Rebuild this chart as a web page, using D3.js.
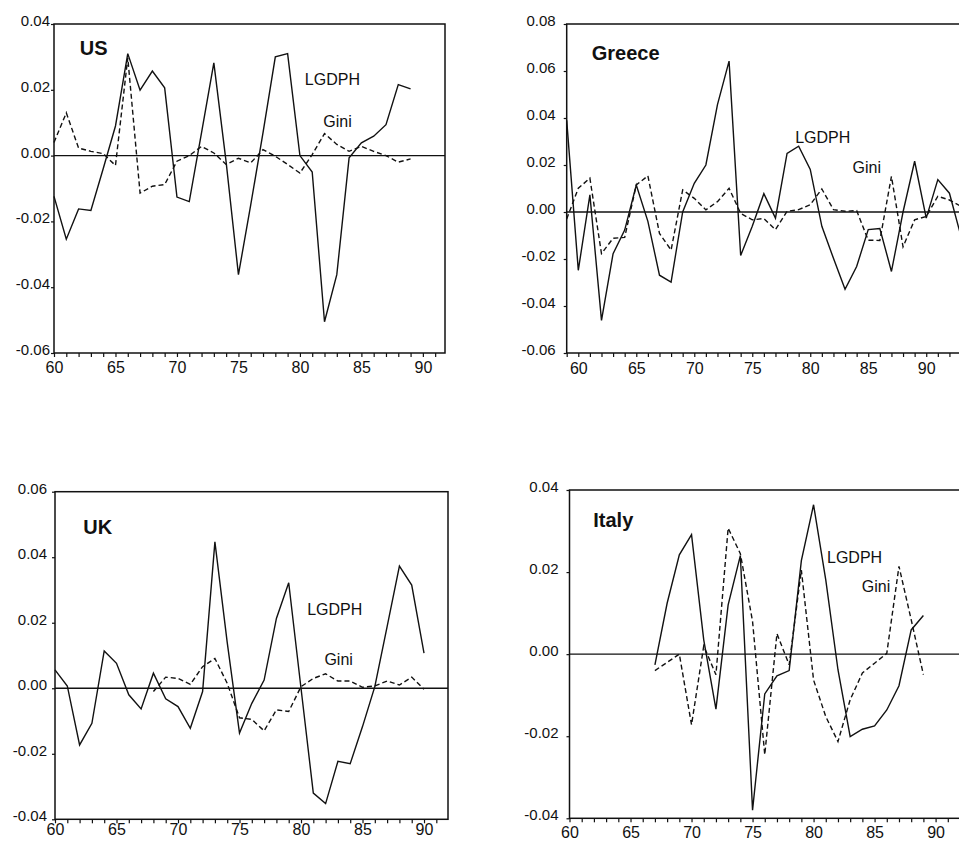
<!DOCTYPE html>
<html>
<head>
<meta charset="utf-8">
<script src="https://cdn.jsdelivr.net/npm/d3@7/dist/d3.min.js"></script>
<style>
  body { margin: 0; background: #fff; }
  svg { display: block; font-family: "Liberation Sans", Arial, sans-serif; }
</style>
</head>
<body>
<div id="chart"></div>
<script>
// --- data ---
const usYears = [60,61,62,63,64,65,66,67,68,69,70,71,72,73,74,75,76,77,78,79,80,81,82,83,84,85,86,87,88,89];
const usLgdph = [-0.0124,-0.0254,-0.0162,-0.0167,-0.004,0.009,0.031,0.0199,0.0257,0.0206,-0.0126,-0.014,0.007,0.0282,-0.002,-0.0362,-0.015,0.007,0.030,0.031,0.000,-0.005,-0.0505,-0.0362,-0.0007,0.0039,0.0059,0.0094,0.0216,0.0203];
const usGini  = [0.004,0.013,0.0023,0.0013,0.0006,-0.003,0.0297,-0.0114,-0.0093,-0.0088,-0.0017,0.0,0.0028,0.0008,-0.0027,-0.0008,-0.0022,0.0018,-0.0002,-0.0027,-0.0053,0.0003,0.0067,0.0034,0.0013,0.0028,0.0013,0.0,-0.002,-0.001];

const grYears = [59,60,61,62,63,64,65,66,67,68,69,70,71,72,73,74,75,76,77,78,79,80,81,82,83,84,85,86,87,88,89,90,91,92,93];
const grLgdph = [0.039,-0.0248,0.0073,-0.0461,-0.0177,-0.0077,0.0115,-0.004,-0.0269,-0.0298,0.0,0.0122,0.02,0.0457,0.0642,-0.0185,-0.0061,0.0078,-0.0026,0.0249,0.028,0.0181,-0.0061,-0.0197,-0.0329,-0.0232,-0.0075,-0.007,-0.0253,0.0,0.0216,-0.0026,0.0138,0.008,-0.0104];
const grGini  = [-0.003,0.0101,0.0144,-0.0177,-0.0112,-0.0108,0.0115,0.0154,-0.0091,-0.0162,0.0094,0.0058,0.0009,0.0044,0.0101,-0.0006,-0.0033,-0.0028,-0.0075,0.0003,0.001,0.0031,0.0098,0.001,0.0003,0.0006,-0.012,-0.0121,0.0152,-0.0148,-0.0033,-0.0019,0.0067,0.0051,0.0024];

const ukYears = [60,61,62,63,64,65,66,67,68,69,70,71,72,73,74,75,76,77,78,79,80,81,82,83,84,85,86,87,88,89,90];
const ukLgdph = [0.0056,0.0007,-0.0173,-0.0107,0.0114,0.0076,-0.002,-0.0063,0.0046,-0.0032,-0.0056,-0.0122,-0.001,0.0447,0.014,-0.0137,-0.0046,0.0025,0.0213,0.0322,0.0,-0.032,-0.0352,-0.0223,-0.023,-0.0117,0.0005,0.0188,0.0373,0.0315,0.0107];
const ukGiniYears = [68,69,70,71,72,73,74,75,76,77,78,79,80,81,82,83,84,85,86,87,88,89,90];
const ukGini  = [-0.001,0.0034,0.003,0.0012,0.0066,0.0091,0.0015,-0.009,-0.0095,-0.013,-0.0066,-0.0071,0.0005,0.003,0.0044,0.0022,0.0022,0.0003,0.0007,0.0022,0.001,0.0034,-0.0003];

const itYears = [67,68,69,70,71,72,73,74,75,76,77,78,79,80,81,82,83,84,85,86,87,88,89];
const itLgdph = [-0.0026,0.0124,0.0242,0.0291,0.0035,-0.0134,0.012,0.024,-0.038,-0.0097,-0.0053,-0.004,0.0228,0.0364,0.0181,-0.0038,-0.0201,-0.0183,-0.0175,-0.0136,-0.0077,0.0059,0.0094];
const itGini  = [-0.004,-0.002,0.0,-0.0172,0.002,-0.005,0.0307,0.0245,0.008,-0.0245,0.005,-0.0026,0.0205,-0.0063,-0.0152,-0.0213,-0.0111,-0.0046,-0.0022,0.0002,0.0214,0.0084,-0.005];

const usTicks = [-0.06,-0.04,-0.02,0.00,0.02,0.04];
const grTicks = [-0.06,-0.04,-0.02,0.00,0.02,0.04,0.06,0.08];
const ukTicks = [-0.04,-0.02,0.00,0.02,0.04,0.06];
const itTicks = [-0.04,-0.02,0.00,0.02,0.04];
const yearLabels = [60,65,70,75,80,85,90];

// panel layout (pixels) and label anchors (data coords)
const panels = [
  { name: "US", years: usYears, lgdph: usLgdph, giniYears: usYears, gini: usGini,
    x0: 54, x1: 445, top: 24, bottom: 353, xDom: [60, 91.8], yDom: [-0.06, 0.04], ticks: usTicks,
    gap: 4, lblOff: 20, title: [62.1, 0.0306], lg: [80.4, 0.0215], gi: [81.9, 0.0087] },
  { name: "Greece", years: grYears, lgdph: grLgdph, giniYears: grYears, gini: grGini,
    x0: 566.7, x1: 963, top: 24, bottom: 353, xDom: [59, 93.17], yDom: [-0.06, 0.08], ticks: grTicks,
    gap: 11, lblOff: 21, title: [61.16, 0.0647], lg: [78.7, 0.0294], gi: [83.65, 0.0166] },
  { name: "UK", years: ukYears, lgdph: ukLgdph, giniYears: ukGiniYears, gini: ukGini,
    x0: 55, x1: 448, top: 491.7, bottom: 819.3, xDom: [60, 91.95], yDom: [-0.04, 0.06], ticks: ukTicks,
    gap: 8, lblOff: 16, title: [62.3, 0.0471], lg: [80.5, 0.0224], gi: [81.9, 0.0071] },
  { name: "Italy", years: itYears, lgdph: itLgdph, giniYears: itYears, gini: itGini,
    x0: 569.5, x1: 960, top: 490, bottom: 818.3, xDom: [60, 92], yDom: [-0.04, 0.04], ticks: itTicks,
    gap: 11, lblOff: 20, title: [61.95, 0.031], lg: [81.1, 0.0222], gi: [83.95, 0.0152] }
];

const width = 959, height = 841;
const svg = d3.select("#chart").append("svg")
  .attr("width", width)
  .attr("height", height);

panels.forEach(p => {
  const x = d3.scaleLinear().domain(p.xDom).range([p.x0, p.x1]);
  const y = d3.scaleLinear().domain(p.yDom).range([p.bottom, p.top]);
  const g = svg.append("g");

  // frame
  g.append("rect")
    .attr("x", p.x0).attr("y", p.top)
    .attr("width", p.x1 - p.x0).attr("height", p.bottom - p.top)
    .attr("fill", "none").attr("stroke", "#111").attr("stroke-width", 1.5);

  // bottom axis: a tick each year, labels every five
  const xAxis = d3.axisBottom(x)
    .tickValues(d3.range(Math.ceil(p.xDom[0]), Math.floor(p.xDom[1]) + 1))
    .tickSize(4)
    .tickFormat(d => yearLabels.includes(d) ? d : "");
  const xa = g.append("g")
    .attr("transform", `translate(0,${p.bottom})`)
    .call(xAxis);
  xa.select(".domain").remove();
  xa.selectAll("line").attr("stroke", "#111").attr("stroke-width", 1.2);
  xa.selectAll("text")
    .attr("y", p.lblOff).attr("dy", "0")
    .attr("font-size", 16).attr("fill", "#111")
    .attr("font-family", "'Liberation Sans', Arial, sans-serif");

  // left axis (plain hyphen for negatives, as in the print)
  const yAxis = d3.axisLeft(y)
    .tickValues(p.ticks)
    .tickSize(3)
    .tickFormat(d => d.toFixed(2));
  const ya = g.append("g")
    .attr("transform", `translate(${p.x0},0)`)
    .call(yAxis);
  ya.select(".domain").remove();
  ya.selectAll("line").attr("stroke", "#111").attr("stroke-width", 1.2);
  ya.selectAll("text")
    .attr("x", -p.gap).attr("dy", "0.1em")
    .attr("font-size", 15).attr("fill", "#111")
    .attr("font-family", "'Liberation Sans', Arial, sans-serif");

  // zero line
  g.append("line")
    .attr("x1", p.x0).attr("x2", p.x1)
    .attr("y1", y(0)).attr("y2", y(0))
    .attr("stroke", "#111").attr("stroke-width", 1.3);

  const line = d3.line()
    .x(d => x(d[0]))
    .y(d => y(d[1]));

  g.append("path")
    .datum(p.giniYears.map((yr, i) => [yr, p.gini[i]]))
    .attr("fill", "none")
    .attr("stroke", "#111")
    .attr("stroke-width", 1.4)
    .attr("stroke-dasharray", "5,3")
    .attr("d", line);

  g.append("path")
    .datum(p.years.map((yr, i) => [yr, p.lgdph[i]]))
    .attr("fill", "none")
    .attr("stroke", "#111")
    .attr("stroke-width", 1.4)
    .attr("d", line);

  // texts
  g.append("text")
    .attr("x", x(p.title[0])).attr("y", y(p.title[1]))
    .attr("font-size", 20).attr("font-weight", "bold").attr("fill", "#111")
    .text(p.name);
  g.append("text")
    .attr("x", x(p.lg[0])).attr("y", y(p.lg[1]))
    .attr("font-size", 16).attr("fill", "#111")
    .text("LGDPH");
  g.append("text")
    .attr("x", x(p.gi[0])).attr("y", y(p.gi[1]))
    .attr("font-size", 16).attr("fill", "#111")
    .text("Gini");
});
</script>
</body>
</html>
